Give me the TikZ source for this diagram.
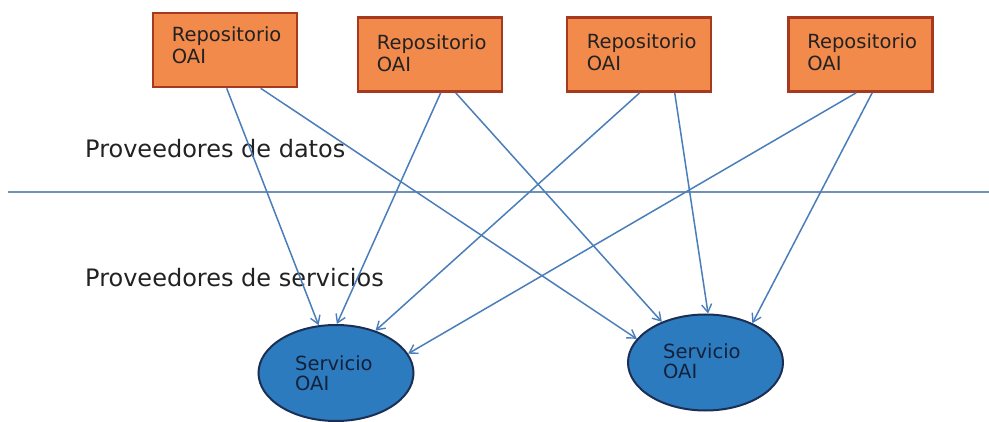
\documentclass[tikz,border=0pt]{standalone}
\usepackage{fontspec}
\setmainfont{DejaVu Sans}
\usetikzlibrary{arrows.meta,calc,shapes.geometric}
\definecolor{repofill}{HTML}{F28A4B}
\definecolor{repoline}{HTML}{A53A1E}
\definecolor{servfill}{HTML}{2C7BBF}
\definecolor{servline}{HTML}{1B2F54}
\definecolor{conn}{HTML}{4A7EBB}
\definecolor{sepline}{HTML}{7090B8}
\definecolor{txt}{HTML}{222222}
\begin{document}
\begin{tikzpicture}[x=1pt,y=-1pt,
  repobox/.style={draw=repoline,fill=repofill,line width=2.6pt,rectangle,inner sep=0pt,minimum width=144pt,minimum height=74pt},
  servnode/.style={draw=servline,fill=servfill,line width=2pt,ellipse,inner sep=0pt,minimum width=155pt,minimum height=96pt},
  boxtext/.style={anchor=base west,align=left,inner sep=0pt,text=txt,font=\fontsize{19.5}{22}\selectfont},
  servtext/.style={anchor=base west,align=left,inner sep=0pt,text=servline!70!black,font=\fontsize{19.5}{20}\selectfont},
  layertext/.style={anchor=base west,inner sep=0pt,text=txt,font=\fontsize{24}{28}\selectfont},
  connarrow/.style={draw=conn,line width=1.5pt,-{Straight Barb[length=8pt,width=10pt,line width=1.4pt]}},
  sep/.style={draw=sepline,line width=1.8pt}]
\useasboundingbox[fill=white] (0,0) rectangle (989,422);

% separator line
\coordinate (sepL) at (8,192);
\coordinate (sepR) at (989,192);
\draw[sep] (sepL) -- (sepR);

% layer labels
\node[layertext] (ldatos) at (85,158) {Proveedores de datos};
\node[layertext] (lserv) at (85,287) {Proveedores de servicios};

% repositories
\node[repobox] (r1) at (225,50) {};
\node[repobox] (r2) at (430,54.5) {};
\node[repobox] (r3) at (639,54.5) {};
\node[repobox] (r4) at (860.5,54.5) {};
\node[boxtext] (t1) at ($(r1.north west)+(20,52)$) {Repositorio\\OAI};
\node[boxtext] (t2) at ($(r2.north west)+(20,55)$) {Repositorio\\OAI};
\node[boxtext] (t3) at ($(r3.north west)+(21,54)$) {Repositorio\\OAI};
\node[boxtext] (t4) at ($(r4.north west)+(20,54)$) {Repositorio\\OAI};

% services
\node[servnode] (s1) at (336,373) {};
\node[servnode] (s2) at (705.5,362.5) {};
\node[servtext] (u1) at (295,390) {Servicio\\OAI};
\node[servtext] (u2) at (663,378) {Servicio\\OAI};

% connectors
\draw[connarrow] ($(r1.south west)+(75,0)$) -- (s1.110);
\draw[connarrow] ($(r1.south west)+(109,0)$) -- (s2.161);
\draw[connarrow] ($(r2.south west)+(84,0)$) -- (s1.89);
\draw[connarrow] ($(r2.south west)+(99,0)$) -- (s2.137);
\draw[connarrow] ($(r3.south west)+(74,0)$) -- (s1.47);
\draw[connarrow] ($(r3.south west)+(109,0)$) -- (s2.87);
\draw[connarrow] ($(r4.south west)+(69,0)$) -- (s1.15);
\draw[connarrow] ($(r4.south west)+(85,0)$) -- (s2.40);
\end{tikzpicture}
\end{document}
